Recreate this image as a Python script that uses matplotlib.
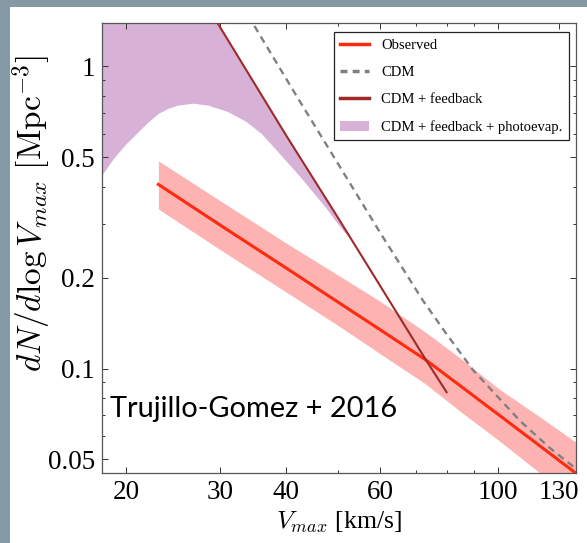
import numpy as np
import matplotlib.pyplot as plt
from matplotlib.patches import Rectangle, Patch
from matplotlib.lines import Line2D
from matplotlib.ticker import FixedLocator, NullFormatter

plt.rcParams['font.family'] = ['Liberation Serif', 'DejaVu Serif']
plt.rcParams['mathtext.fontset'] = 'cm'

# observed velocity function and its uncertainty band
obs_v = [23, 30, 40, 50, 60, 73, 85, 100, 120, 140]
obs_n = [0.407, 0.299, 0.215, 0.166, 0.1345, 0.107, 0.0875, 0.0705, 0.0553, 0.045]
obs_hi = [0.487, 0.36, 0.26, 0.204, 0.167, 0.132, 0.108, 0.086, 0.069, 0.057]
obs_lo = [0.3375, 0.248, 0.179, 0.139, 0.112, 0.089, 0.072, 0.058, 0.045, 0.036]

# dark-matter-only prediction
cdm_v = [33, 34.6, 41.5, 50, 60, 72.2, 80, 89.7, 110, 125, 140]
cdm_n = [1.60, 1.39, 0.816, 0.477, 0.282, 0.168, 0.130, 0.0988, 0.067, 0.0546, 0.0466]

# CDM with feedback
fb_v = [18, 29.73, 40, 50, 60, 73.1, 80]
fb_n = [5.2, 1.39, 0.59, 0.316, 0.188, 0.107, 0.0835]

# lower edge of the photoevaporation region
ph_v = [18, 19, 20, 21.5, 22, 23, 24, 25, 26.7, 28.5, 31, 33.5, 35.9, 38.3, 42.3,
        47.5, 49.7, 51.5, 53]
ph_lo = [0.437, 0.50, 0.555, 0.63, 0.655, 0.70, 0.727, 0.745, 0.756, 0.745, 0.71,
         0.66, 0.60, 0.529, 0.435, 0.340, 0.305, 0.282, 0.268]

x_ticks = [20, 30, 40, 60, 100, 130]
x_minor = [50, 70, 80, 90]
y_ticks = [0.05, 0.1, 0.2, 0.5, 1]

fig = plt.figure(figsize=(5.87, 5.43), dpi=100)
fig.patch.set_facecolor('#8599a4')
fig.patches.append(Rectangle((9.5 / 587, 0), 1, 1 - 7 / 543, transform=fig.transFigure,
                             facecolor='white', edgecolor='none', zorder=-10))

ax = fig.add_axes([101.7 / 587, (543 - 473.3) / 543, (576 - 101.7) / 587, 450 / 543])
ax.set_zorder(1)
ax.set_xscale('log')
ax.set_yscale('log')
ax.set_xlim(18, 140)
ax.set_ylim(0.045, 1.39)

# upper edge of the purple region follows the feedback line
ph_hi = np.exp(np.interp(np.log(ph_v), np.log(fb_v), np.log(fb_n)))
ax.fill_between(ph_v, ph_lo, ph_hi, color='#d7b1d6', lw=0, zorder=1)
ax.fill_between(obs_v, obs_lo, obs_hi, color='#fcb3b1', lw=0, zorder=2)
ax.plot(obs_v, obs_n, color='#ff2a0f', lw=2.2, zorder=3)
ax.plot(cdm_v, cdm_n, color='#808080', lw=1.7, ls=(0, (3.0, 2.2)), zorder=4)
ax.plot(fb_v, fb_n, color='#9e2a2a', lw=1.5, zorder=5)

ax.xaxis.set_major_locator(FixedLocator(x_ticks))
ax.xaxis.set_minor_locator(FixedLocator(x_minor))
ax.set_xticklabels([str(t) for t in x_ticks])
ax.xaxis.set_minor_formatter(NullFormatter())
ax.yaxis.set_major_locator(FixedLocator(y_ticks))
ax.set_yticklabels(['0.05', '0.1', '0.2', '0.5', '1'])
ax.yaxis.set_minor_locator(FixedLocator([0.06, 0.07, 0.08, 0.09, 0.3, 0.4,
                                         0.6, 0.7, 0.8, 0.9]))
ax.yaxis.set_minor_formatter(NullFormatter())

ax.tick_params(which='both', direction='in', top=True, right=True,
               color='#333333', width=0.7, labelsize=19.5, pad=5)
ax.tick_params(which='major', length=4)
ax.tick_params(which='minor', length=2.5)
for s in ax.spines.values():
    s.set_color('#555555')
    s.set_linewidth(0.9)

ax.set_xlabel(r'$V_{max}$ [km/s]', fontsize=18.5, labelpad=3)
ax.set_ylabel(r'$dN/d\log V_{max}\ [\mathrm{Mpc}^{-3}]$', fontsize=24)
ax.yaxis.set_label_coords(-0.103, 0.578)

ax.text(0.018, 0.125, 'Trujillo-Gomez + 2016', transform=ax.transAxes,
        family='Lato', fontsize=20.9, color='black', va='baseline', zorder=6)

handles = [Line2D([], [], color='#ff2a0f', lw=2.5),
           Line2D([], [], color='#808080', lw=2.5, ls=(0, (2.0, 1.5))),
           Line2D([], [], color='#9e2a2a', lw=2.5),
           Patch(facecolor='#d7b1d6', edgecolor='none')]
labels = ['Observed', 'CDM', 'CDM + feedback', 'CDM + feedback + photoevap.']
leg = ax.legend(handles, labels, loc='upper right', bbox_to_anchor=(0.985, 0.98),
                borderaxespad=0, fontsize=10.5, fancybox=False, framealpha=1,
                edgecolor='#222222', handlelength=2.0, handletextpad=0.8,
                labelspacing=0.95, borderpad=0.45)
leg.get_frame().set_linewidth(0.9)

fig.savefig('out.png', dpi=100, facecolor=fig.get_facecolor())
